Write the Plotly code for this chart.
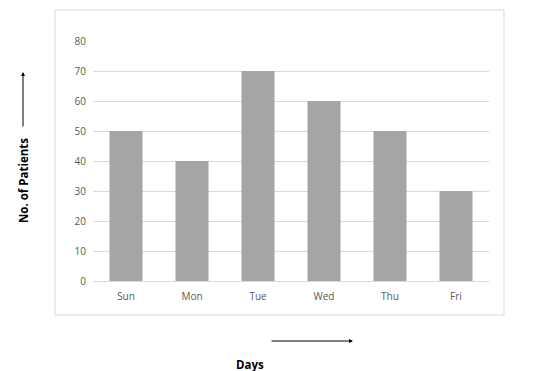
import plotly.graph_objects as go

days = ["Sun", "Mon", "Tue", "Wed", "Thu", "Fri"]
patients = [50, 40, 70, 60, 50, 30]
y_ticks = [0, 10, 20, 30, 40, 50, 60, 70, 80]

OFF = 8  # page body margin
W, H = 546 - OFF, 371
# target plot area in page pixels: x 93..489, y 41..281
L, T = 93 - OFF, 41 - OFF
R = W - (489 - OFF)
B = H - (281 - OFF)
pw, ph = W - L - R, H - T - B

def px(x):
    return (x - OFF - L) / pw

def py(y):
    return (H - B - (y - OFF)) / ph

fig = go.Figure(go.Bar(x=days, y=patients, marker=dict(color="#a5a5a5", line=dict(width=0))))

fig.update_layout(
    width=W, height=H,
    margin=dict(l=L, r=R, t=T, b=B),
    paper_bgcolor="white", plot_bgcolor="white",
    bargap=0.5,
    showlegend=False,
    font=dict(family="Open Sans", color="#595959", size=10),
)
fig.update_xaxes(showgrid=False, showline=False, ticks="", ticklabelstandoff=8,
                 tickfont=dict(size=10, color="#595959"))
fig.update_yaxes(range=[0, 80], tickvals=y_ticks, showgrid=True, gridcolor="#d9d9d9",
                 gridwidth=1, zeroline=True, zerolinecolor="#d9d9d9", zerolinewidth=1,
                 showline=False, ticks="", ticklabelstandoff=6,
                 tickfont=dict(size=10, color="#595959"))

# chart border
fig.add_shape(type="rect", xref="paper", yref="paper",
              x0=px(55), x1=px(504), y0=py(315), y1=py(10),
              line=dict(color="#d9d9d9", width=1), fillcolor="rgba(0,0,0,0)", layer="below")

# axis titles
fig.add_annotation(text="<b>No. of Patients</b>", xref="paper", yref="paper",
                   x=px(24), y=py(181), xanchor="center", yanchor="middle",
                   textangle=-90, showarrow=False,
                   font=dict(family="Open Sans", size=11.5, color="black"))
fig.add_annotation(text="<b>Days</b>", xref="paper", yref="paper",
                   x=px(250), y=py(364), xanchor="center", yanchor="middle",
                   showarrow=False,
                   font=dict(family="Open Sans", size=11.5, color="black"))

# arrows
fig.add_annotation(text="", xref="paper", yref="paper", x=px(23), y=py(72),
                   ax=0, ay=56, showarrow=True, arrowhead=2, arrowsize=0.8,
                   arrowwidth=1, arrowcolor="black")
fig.add_annotation(text="", xref="paper", yref="paper", x=px(353), y=py(341),
                   ax=-83, ay=0, showarrow=True, arrowhead=2, arrowsize=0.8,
                   arrowwidth=1, arrowcolor="black")

fig.write_html("out.html")
